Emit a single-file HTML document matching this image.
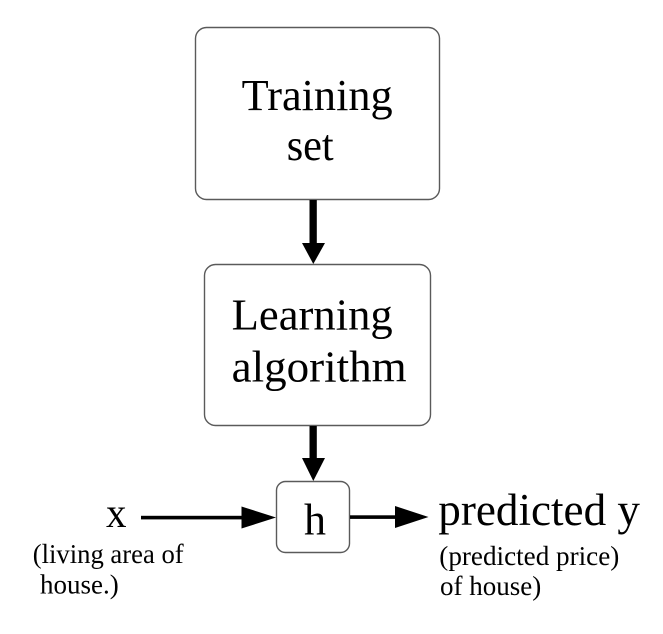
<!DOCTYPE html>
<html>
<head>
<meta charset="utf-8">
<style>
  html, body { margin: 0; padding: 0; background: #ffffff; }
  svg { display: block; }
</style>
</head>
<body>
<svg width="663" height="634" viewBox="0 0 663 634" xmlns="http://www.w3.org/2000/svg">
  <rect x="0" y="0" width="663" height="634" fill="#ffffff"/>

  <!-- Training set box -->
  <rect x="195.5" y="27.5" width="244" height="172" rx="11" ry="11" fill="#fff" stroke="#5a5a5a" stroke-width="1.4"/>

  <!-- arrow 1 -->
  <rect x="309.5" y="200" width="7.3" height="45" fill="#000"/>
  <polygon points="302,243 325,243 313.3,264" fill="#000"/>

  <!-- Learning algorithm box -->
  <rect x="204.5" y="264.5" width="226" height="161" rx="11" ry="11" fill="#fff" stroke="#5a5a5a" stroke-width="1.4"/>

  <!-- arrow 2 -->
  <rect x="309.5" y="426" width="7.3" height="34" fill="#000"/>
  <polygon points="302,458 325,458 313.3,481" fill="#000"/>

  <!-- h box -->
  <rect x="276.5" y="481.5" width="73" height="71" rx="9" ry="9" fill="#fff" stroke="#5a5a5a" stroke-width="1.4"/>

  <!-- left arrow -->
  <rect x="141" y="515.8" width="102" height="3.6" fill="#000"/>
  <polygon points="241.5,506.5 241.5,528.5 276,517.5" fill="#000"/>

  <!-- right arrow -->
  <rect x="350" y="515.3" width="47" height="3.6" fill="#000"/>
  <polygon points="395,506 395,528 428.5,517" fill="#000"/>

  <g font-family="'Liberation Serif', 'DejaVu Serif', serif" fill="#000">
    <text x="241.7" y="110" font-size="44" textLength="151" lengthAdjust="spacingAndGlyphs">Training</text>
    <text x="286.7" y="160" font-size="44" textLength="47" lengthAdjust="spacingAndGlyphs">set</text>

    <text x="231.7" y="329.5" font-size="44" textLength="161" lengthAdjust="spacingAndGlyphs">Learning</text>
    <text x="231.7" y="381.7" font-size="44" textLength="175" lengthAdjust="spacingAndGlyphs">algorithm</text>

    <text x="304" y="534.5" font-size="44" textLength="22" lengthAdjust="spacingAndGlyphs">h</text>

    <text x="106" y="527" font-size="42" textLength="20.5" lengthAdjust="spacingAndGlyphs">x</text>
    <text x="32.7" y="563" font-size="27" textLength="151" lengthAdjust="spacingAndGlyphs">(living area of</text>
    <text x="40" y="593.5" font-size="27">house.)</text>

    <text x="438.3" y="525" font-size="45" textLength="201.7" lengthAdjust="spacingAndGlyphs">predicted y</text>
    <text x="439.3" y="565" font-size="27" textLength="180" lengthAdjust="spacingAndGlyphs">(predicted price)</text>
    <text x="440" y="595" font-size="27">of house)</text>
  </g>
</svg>
</body>
</html>
